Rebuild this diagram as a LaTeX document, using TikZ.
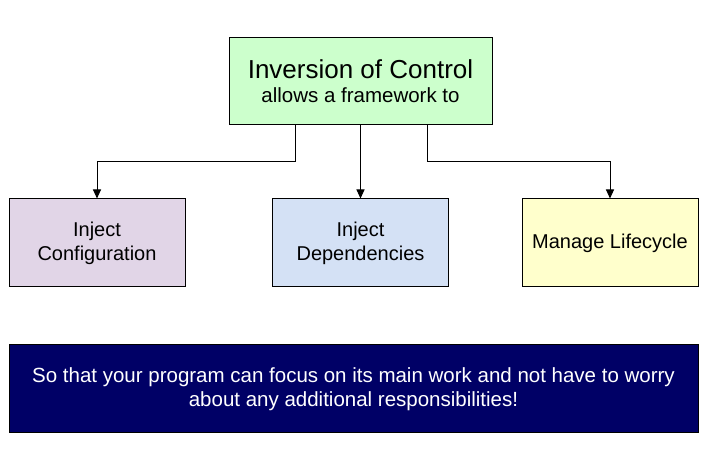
\documentclass[tikz,border=0pt]{standalone}
\usepackage{fontspec}
\setmainfont{Liberation Sans}
\usetikzlibrary{arrows.meta}
\definecolor{topgreen}{HTML}{CCFFCC}
\definecolor{boxpurple}{HTML}{E1D5E7}
\definecolor{boxblue}{HTML}{D4E1F5}
\definecolor{boxyellow}{HTML}{FFFFCC}
\definecolor{navy}{HTML}{000066}
\tikzset{
  box/.style={draw=black, line width=1pt, minimum width=176pt, minimum height=88pt, inner sep=0pt, align=center, font=\fontsize{20}{24}\selectfont},
  conn/.style={draw=black, line width=1pt, -{Triangle[length=9pt,width=8pt]}},
}
\begin{document}
\begin{tikzpicture}[x=1pt,y=1pt]
\useasboundingbox (0,0) rectangle (710,449);
\node[box, fill=topgreen, minimum width=263pt, minimum height=87pt] (ioc) at (360.5,367.5)
  {{\fontsize{26}{28}\selectfont Inversion of Control}\\[0pt]{\fontsize{20.5}{24}\selectfont allows a framework to}};
\node[box, fill=boxpurple] (cfg) at (97,206) {Inject\\Configuration};
\node[box, fill=boxblue] (dep) at (360.5,206) {Inject\\Dependencies};
\node[box, fill=boxyellow] (life) at (610,206) {Manage Lifecycle};
\node[box, fill=navy, text=white, minimum width=689pt, minimum height=88pt, font=\fontsize{20.5}{24.5}\selectfont] (note) at (353.5,60)
  {So that your program can focus on its main work and not have to worry\\about any additional responsibilities!};
\coordinate (lbend) at (295,287);
\coordinate (rbend) at (427,287);
\draw[conn] (ioc.south -| lbend) -- (lbend) -| (cfg.north);
\draw[conn] (ioc.south) -- (dep.north);
\draw[conn] (ioc.south -| rbend) -- (rbend) -| (life.north);
\end{tikzpicture}
\end{document}
